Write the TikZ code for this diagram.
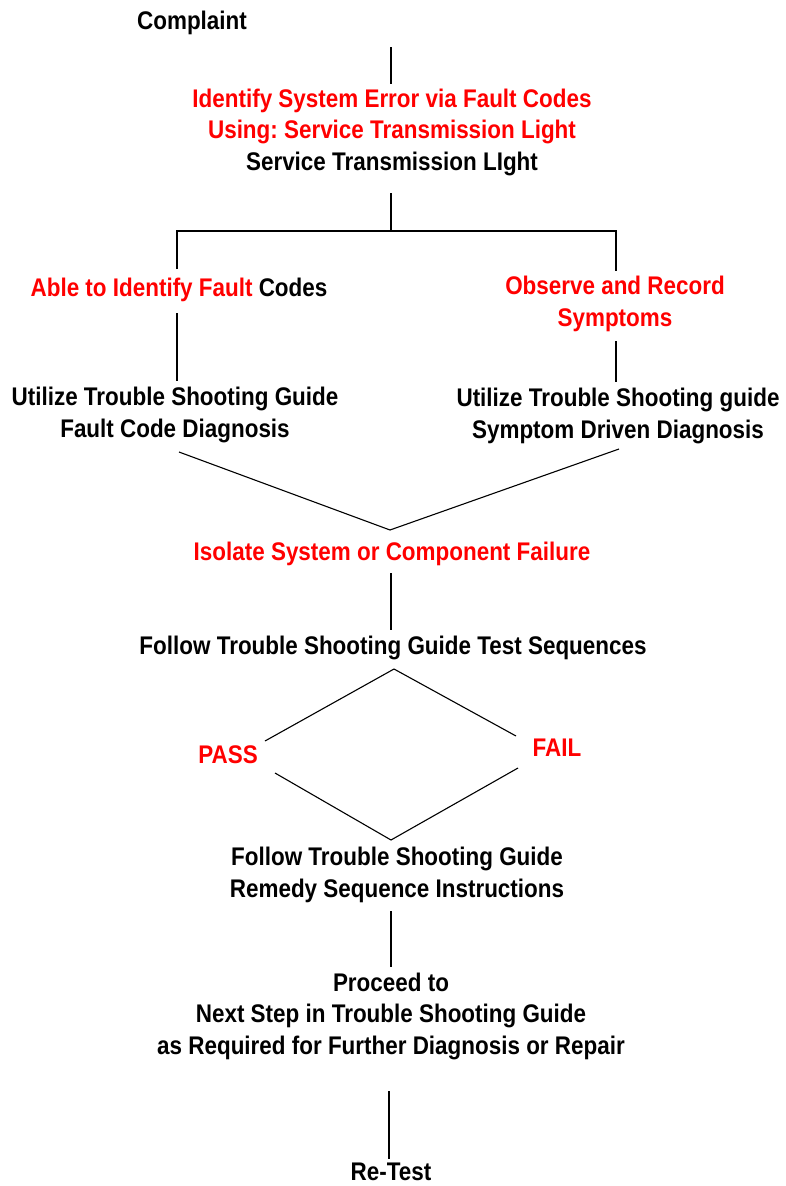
\documentclass[tikz,border=0pt]{standalone}
\usepackage{fontspec}
\setmainfont[FakeStretch=0.88]{Liberation Sans}
\frenchspacing
\begin{document}
\begin{tikzpicture}[x=1pt,y=-1pt,
  txt/.style={inner sep=0pt,anchor=base,align=center,font=\bfseries\fontsize{25.5}{31.5}\selectfont},
  red/.style={text=red},
  thick line/.style={line width=2pt},
  thin line/.style={line width=1.1pt}]
\definecolor{red}{RGB}{255,0,0}
\useasboundingbox (0,0) rectangle (785,1186);
% multi-line nodes are placed at the baseline of their last line
\node[txt] (complaint) at (192,29) {Complaint};
\node[txt] (identify) at (392,170) {\textcolor{red}{Identify System Error via Fault Codes}\\\textcolor{red}{Using: Service Transmission Light}\\Service Transmission LIght};
\node[txt] (able) at (179,296) {\textcolor{red}{Able to Identify Fault} Codes};
\node[txt,red] (observe) at (615,326) {Observe and Record\\Symptoms};
\node[txt] (utilL) at (175,437) {Utilize Trouble Shooting Guide\\Fault Code Diagnosis};
\node[txt] (utilR) at (618,438) {Utilize Trouble Shooting guide\\Symptom Driven Diagnosis};
\node[txt,red] (isolate) at (392,560) {Isolate System or Component Failure};
\node[txt] (follow) at (393,654) {Follow Trouble Shooting Guide Test Sequences};
\node[txt,red] (pass) at (228,763) {PASS};
\node[txt,red] (fail) at (557,756) {FAIL};
\node[txt] (remedy) at (397,897) {Follow Trouble Shooting Guide\\Remedy Sequence Instructions};
\node[txt] (proceed) at (391,1054) {Proceed to\\Next Step in Trouble Shooting Guide\\as Required for Further Diagnosis or Repair};
\node[txt] (retest) at (391,1180) {Re-Test};
% connector coordinates
\coordinate (c1a) at (391,47);  \coordinate (c1b) at (391,84);
\coordinate (c2a) at (391,193); \coordinate (c2b) at (391,231);
\coordinate (hl) at (177,231);  \coordinate (hr) at (616,231);
\coordinate (vl) at (177,269);  \coordinate (vr) at (616,271);
\coordinate (l3a) at (177,313); \coordinate (l3b) at (177,381);
\coordinate (r3a) at (616,341); \coordinate (r3b) at (616,382);
\coordinate (dL) at (179,452);  \coordinate (dV) at (390,530); \coordinate (dR) at (619,449);
\coordinate (c4a) at (391,573); \coordinate (c4b) at (391,630);
\coordinate (mT) at (394,669); \coordinate (mLu) at (265,741); \coordinate (mRu) at (516,736);
\coordinate (mLl) at (275,773); \coordinate (mRl) at (518,768); \coordinate (mB) at (391,840);
\coordinate (c5a) at (391,911); \coordinate (c5b) at (391,967);
\coordinate (c6a) at (389,1091); \coordinate (c6b) at (389,1159);
\draw[thick line] (c1a) -- (c1b);
\draw[thick line] (c2a) -- (c2b);
\draw[thick line] (vl) -- (hl) -- (hr) -- (vr);
\draw[thick line] (l3a) -- (l3b);
\draw[thick line] (r3a) -- (r3b);
\draw[thin line] (dL) -- (dV) -- (dR);
\draw[thick line] (c4a) -- (c4b);
\draw[thin line] (mLu) -- (mT) -- (mRu);
\draw[thin line] (mLl) -- (mB) -- (mRl);
\draw[thick line] (c5a) -- (c5b);
\draw[thick line] (c6a) -- (c6b);
\end{tikzpicture}
\end{document}
